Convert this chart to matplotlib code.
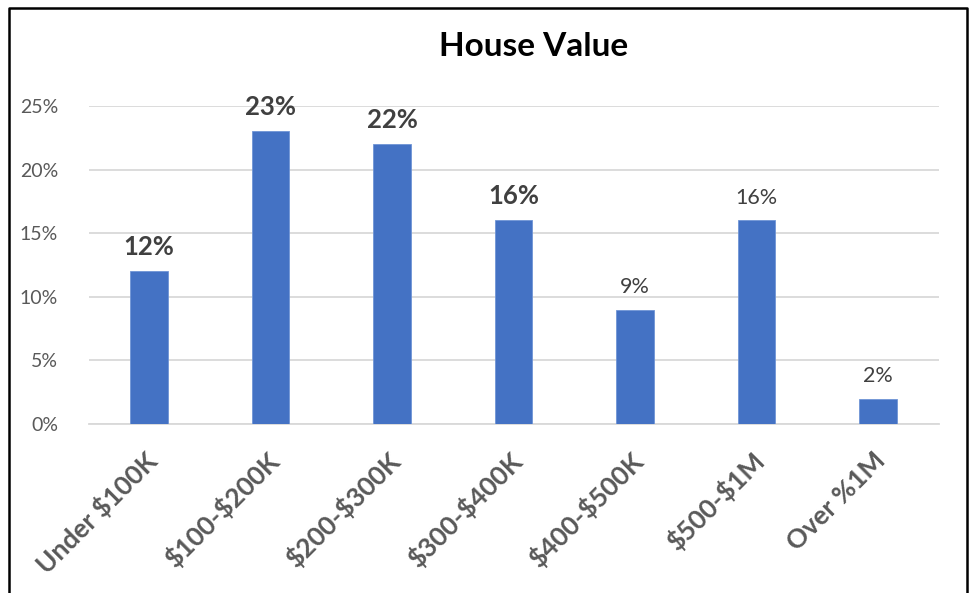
import matplotlib.pyplot as plt
import matplotlib.transforms as mtransforms
from matplotlib.ticker import PercentFormatter
from matplotlib.lines import Line2D

categories = ['Under $100K', '$100-$200K', '$200-$300K', '$300-$400K',
              '$400-$500K', '$500-$1M', 'Over %1M']
values = [12, 23, 22, 16, 9, 16, 2]
bold_labels = [True, True, True, True, False, False, False]

plt.rcParams['font.family'] = ['Lato', 'DejaVu Sans']
plt.rcParams['text.parse_math'] = False

W, H = 972, 593
fig = plt.figure(figsize=(W / 100, H / 100), dpi=100)
ax = fig.add_axes([88.5 / W, 1 - 424 / H, (938.5 - 88.5) / W, (424 - 106) / H])

x = range(len(categories))
ax.bar(x, values, width=0.31, color='#4472C4', edgecolor='#6f95d6', linewidth=0.6, zorder=3)

for i, v in enumerate(values):
    if bold_labels[i]:
        ax.text(i, v + 0.95, f'{v}%', ha='center', va='bottom', fontsize=18.5,
                fontweight='bold', color='#404040', clip_on=False)
    else:
        ax.text(i, v + 0.95, f'{v}%', ha='center', va='bottom', fontsize=15.5,
                color='#404040', clip_on=False)

ax.set_xlim(-0.5, len(categories) - 0.5)
ax.set_ylim(0, 25)
ax.set_yticks([0, 5, 10, 15, 20, 25])
ax.yaxis.set_major_formatter(PercentFormatter(decimals=0))
ax.yaxis.grid(True, color='#d9d9d9', linewidth=1.3, zorder=0)
ax.set_axisbelow(True)
for s in ['top', 'right', 'left']:
    ax.spines[s].set_visible(False)
ax.spines['bottom'].set_color('#d9d9d9')
ax.spines['bottom'].set_linewidth(1.3)
ax.tick_params(axis='both', length=0)
ax.tick_params(axis='y', labelsize=14, labelcolor='#595959', pad=22)
ax.set_xticks(list(x))
ax.set_xticklabels(categories, rotation=45, ha='right', rotation_mode='anchor',
                   fontsize=19, fontweight='bold', color='#595959')
ax.tick_params(axis='x', pad=17)
shift = mtransforms.ScaledTranslation(-5 / 100, 0, fig.dpi_scale_trans)
for lbl in ax.get_xticklabels():
    lbl.set_transform(lbl.get_transform() + shift)

fig.text(534 / W, 1 - 46 / H, 'House Value', ha='center', va='center',
         fontsize=24, fontweight='bold', color='black')

# outer frame of the chart
frame_x = [8.5 / W, 8.5 / W, 966.5 / W, 966.5 / W]
frame_y = [0, 1 - 7.5 / H, 1 - 7.5 / H, 0]
fig.add_artist(Line2D(frame_x, frame_y, color='black', linewidth=1.8,
                      transform=fig.transFigure))

fig.savefig('out.png', dpi=100)
